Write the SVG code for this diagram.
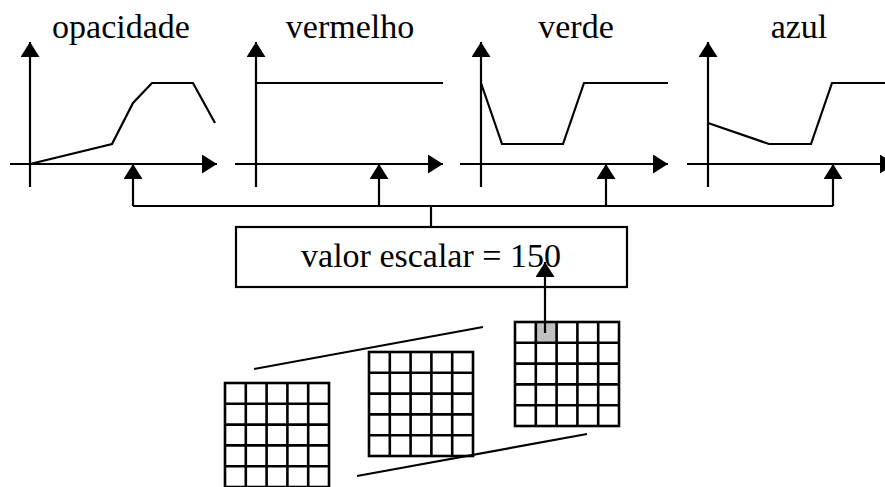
<svg xmlns="http://www.w3.org/2000/svg" xmlns:xlink="http://www.w3.org/1999/xlink" width="885" height="487" viewBox="0 0 885 487">
<style>
.ln{fill:none;stroke:#000;stroke-width:2.2}
.ax{fill:none;stroke:#000;stroke-width:2.2;marker-end:url(#ah)}
.cv{fill:none;stroke:#000;stroke-width:2.2;stroke-linejoin:miter}
.t{font-family:'Liberation Serif','Tinos','Times New Roman','DejaVu Serif',serif;font-size:34px;fill:#000;text-anchor:middle}
.g{fill:none;stroke:#000;stroke-width:2.6}
</style>
<defs>
<marker id="ah" markerUnits="userSpaceOnUse" markerWidth="15" markerHeight="19" refX="15" refY="9.5" orient="auto" viewBox="0 0 15 19">
<path d="M0,0 L15,9.5 L0,19 Z" fill="#000"/>
</marker>
<g id="grid">
<rect class="g" x="0" y="0" width="104" height="104"/>
<path class="g" d="M20.8,0V104M41.6,0V104M62.4,0V104M83.2,0V104M0,20.8H104M0,41.6H104M0,62.4H104M0,83.2H104"/>
</g>
</defs>
<rect width="885" height="487" fill="#fff"/>

<g id="graph-opacidade">
<text class="t" font-family="Liberation Serif, serif" x="121" y="38">opacidade</text>
<line class="ax" x1="30" y1="187" x2="30" y2="42"/>
<line class="ax" x1="10" y1="164" x2="217" y2="164"/>
<polyline class="cv" points="30,164 112,144 133,103 152,83 193,83 215,123"/>
</g>

<g id="graph-vermelho">
<text class="t" font-family="Liberation Serif, serif" x="350" y="38">vermelho</text>
<line class="ax" x1="256" y1="187" x2="256" y2="42"/>
<line class="ax" x1="235" y1="164" x2="443" y2="164"/>
<polyline class="cv" points="256,83 443,83"/>
</g>

<g id="graph-verde">
<text class="t" font-family="Liberation Serif, serif" x="576" y="38">verde</text>
<line class="ax" x1="481" y1="187" x2="481" y2="42"/>
<line class="ax" x1="460" y1="164" x2="668" y2="164"/>
<polyline class="cv" points="481,83 502,144 563,144 584,83 668,83"/>
</g>

<g id="graph-azul">
<text class="t" font-family="Liberation Serif, serif" x="799" y="38">azul</text>
<line class="ax" x1="708" y1="187" x2="708" y2="42"/>
<line class="ax" x1="687" y1="164" x2="895" y2="164"/>
<polyline class="cv" points="708,123 769,144 811,144 832,83 890,83"/>
</g>

<g id="box-valor">
<rect x="236" y="227" width="391" height="60" fill="#fff" stroke="#000" stroke-width="2.2"/>
<text class="t" font-family="Liberation Serif, serif" x="431" y="267">valor escalar = 150</text>
</g>

<g id="volumes">
<rect x="535.8" y="322" width="20.8" height="20.8" fill="#c0c0c0"/>
<use xlink:href="#grid" x="225" y="383"/>
<use xlink:href="#grid" x="369" y="352"/>
<use xlink:href="#grid" x="515" y="322"/>
<line class="ln" x1="254" y1="369" x2="483" y2="327"/>
<line class="ln" x1="357" y1="476" x2="587" y2="434"/>
</g>

<g id="connectors">
<polyline class="ln" points="133,206 833,206"/>
<line class="ax" x1="133" y1="206" x2="133" y2="164"/>
<line class="ax" x1="379" y1="206" x2="379" y2="164"/>
<line class="ax" x1="606" y1="206" x2="606" y2="164"/>
<line class="ax" x1="833" y1="206" x2="833" y2="164"/>
<line class="ln" x1="431" y1="206" x2="431" y2="227"/>
<line class="ax" x1="545" y1="333" x2="545" y2="262"/>
</g>
</svg>
